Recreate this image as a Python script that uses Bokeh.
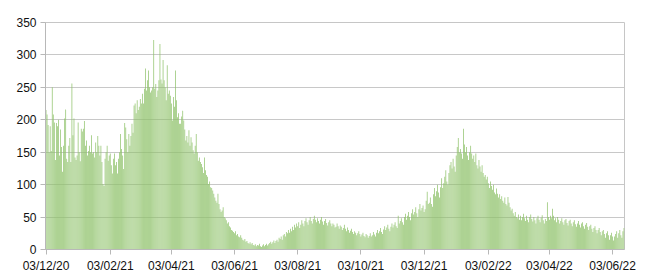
from datetime import date
from bokeh.plotting import figure
from bokeh.models import FixedTicker, Range1d, ColumnDataSource
from bokeh.embed import file_html
from bokeh.resources import INLINE

start_date = "2020-12-03"

daily_cases = [
    215, 208, 192, 150, 190, 152, 250, 208, 196, 138, 195, 190, 200, 145,
    185, 158, 120, 160, 202, 216, 140,
    135, 160, 172, 135, 256, 176, 202,
    142, 138, 145, 196, 150, 136, 186,
    182, 186, 198, 160, 168, 145, 152,
    160, 150, 176, 148, 150, 142, 165,
    150, 175, 160, 145, 160, 135, 101,
    98, 140, 150, 160, 137, 145, 148,
    130, 117, 140, 148, 130, 135, 117,
    140, 150, 178, 155, 145, 124, 195,
    188, 170, 150, 178, 160, 175, 194,
    180, 222, 225, 210, 230, 215, 220,
    232, 225, 240, 225, 248, 279,
    245, 261, 276, 250, 242, 245, 250,
    323, 248, 255, 235, 245, 261, 317,
    262, 256, 292, 261, 250, 230, 284,
    240, 245, 237, 225, 199, 235, 220,
    276, 230, 204, 210, 194, 194, 205,
    214, 199, 185, 168, 175, 165, 184,
    160, 173, 165, 153, 148, 160, 178,
    150, 137, 142, 135, 132, 127, 118,
    142, 122, 115, 112, 101, 105, 96,
    95, 91, 86, 80, 75, 72, 86,
    70, 62, 58, 60, 65, 50, 48,
    45, 40, 42, 36, 34, 30, 29,
    27, 25, 28, 22, 24, 20, 19,
    22, 18, 15, 14, 16, 12, 13,
    10, 9, 11, 8, 10, 7, 6,
    8, 5, 7, 6, 9, 5, 4,
    6, 8, 5, 7, 9, 6, 8,
    10, 12, 9, 11, 14, 10, 13,
    15, 12, 18, 16, 20, 15, 22,
    24, 20, 27, 25, 30, 26, 32,
    28, 35, 30, 38, 34, 40, 36,
    42, 33, 38, 45, 40, 36, 44,
    48, 42, 38, 45, 50, 44, 40,
    47, 52, 46, 42, 48, 44, 40,
    46, 50, 43, 38, 44, 47, 41,
    37, 42, 45, 40, 36, 40, 38,
    34, 35, 40, 36, 32, 37, 35,
    30, 33, 38, 32, 28, 34, 30,
    26, 29, 32, 27, 24, 28, 26,
    22, 25, 28, 24, 20, 23, 26,
    21, 19, 24, 22, 18, 21, 25,
    20, 22, 27, 23, 20, 26, 30,
    25, 28, 33, 27, 24, 31, 36,
    30, 34, 38, 32, 28, 35, 40,
    34, 38, 42, 36, 33, 52, 40,
    44, 48, 42, 38, 50, 55, 46,
    52, 58, 50, 45, 56, 62, 54,
    58, 65, 56, 50, 62, 70, 60,
    64, 68, 58, 62, 75, 89, 70,
    72, 80, 70, 66, 85, 95, 82,
    90, 100, 88, 80, 96, 110, 95,
    102, 112, 122, 105, 100, 118, 130,
    135, 125, 140, 128, 120, 145, 158,
    172, 150, 155, 148, 140, 186, 162,
    150, 158, 145, 138, 150, 160, 148,
    140, 145, 135, 148, 130, 125, 138,
    128, 120, 130, 118, 112, 115, 108,
    112, 102, 95, 105, 98, 92, 100,
    88, 85, 94, 86, 80, 85, 78,
    82, 75, 72, 80, 70, 68, 81,
    72, 65, 60, 63, 56, 52, 58,
    50, 48, 54, 46, 52, 45, 50,
    55, 48, 44, 52, 46, 42, 50,
    54, 47, 43, 50, 45, 40, 48,
    52, 46, 42, 49, 53, 45, 40,
    47, 44, 73, 50, 46, 52, 48,
    63, 52, 45, 48, 42, 50, 46,
    40, 44, 48, 42, 38, 45, 47,
    41, 37, 44, 46, 40, 36, 42,
    45, 39, 35, 40, 44, 38, 34,
    40, 42, 36, 32, 38, 41, 35,
    30, 36, 38, 32, 27, 33, 36,
    30, 25, 30, 33, 27, 22, 28,
    30, 24, 18, 25, 28, 22, 15,
    22, 26, 20, 14, 20, 24, 28,
    18, 25, 30, 22, 18, 28, 33,
]

tick_dates = ["2020-12-03", "2021-02-03", "2021-04-03", "2021-06-03", "2021-08-03",
              "2021-10-03", "2021-12-03", "2022-02-03", "2022-04-03", "2022-06-03"]
tick_labels = ["03/12/20", "03/02/21", "03/04/21", "03/06/21", "03/08/21",
               "03/10/21", "03/12/21", "03/02/22", "03/04/22", "03/06/22"]
y_ticks = [0, 50, 100, 150, 200, 250, 300, 350]

d0 = date.fromisoformat(start_date)
tick_pos = [(date.fromisoformat(t) - d0).days for t in tick_dates]
days = list(range(len(daily_cases)))

src = ColumnDataSource(dict(day=days, cases=daily_cases))

p = figure(width=650, height=280, output_backend="svg", toolbar_location=None,
           x_range=Range1d(-0.5, len(daily_cases) - 0.5), y_range=Range1d(0, 350),
           min_border_left=45, min_border_right=26, min_border_top=22, min_border_bottom=31)

p.vbar(x="day", top="cases", width=0.7, source=src,
       fill_color="#8fc26a", line_color=None)

p.outline_line_color = "#c6c6c6"
p.background_fill_color = "white"
p.border_fill_color = "white"

p.xgrid.grid_line_color = None
p.ygrid.grid_line_color = "#c8c8c8"
p.ygrid.grid_line_width = 1
p.ygrid.ticker = FixedTicker(ticks=y_ticks)

p.yaxis.ticker = FixedTicker(ticks=y_ticks)
p.xaxis.ticker = FixedTicker(ticks=tick_pos)
p.xaxis.major_label_overrides = {pos: lab for pos, lab in zip(tick_pos, tick_labels)}

for ax in (p.xaxis, p.yaxis):
    ax.axis_line_color = "#b8b8b8"
    ax.major_tick_line_color = "#b8b8b8"
    ax.minor_tick_line_color = None
    ax.major_tick_in = 0
    ax.major_tick_out = 5
    ax.major_label_text_font = "Liberation Sans"
    ax.major_label_text_font_size = "12px"
    ax.major_label_text_color = "#111111"
p.yaxis.major_label_standoff = 4
p.xaxis.major_label_standoff = 4

open("out.html", "w").write(file_html(p, INLINE))
